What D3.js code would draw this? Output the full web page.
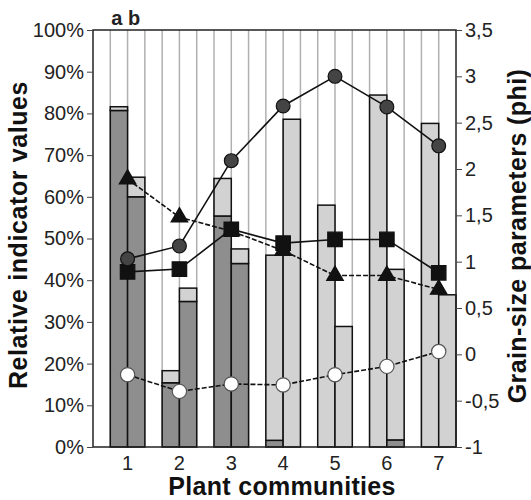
<!DOCTYPE html>
<html>
<head>
<meta charset="utf-8">
<script src="https://cdn.jsdelivr.net/npm/d3@7"></script>
<style>
  body { margin: 0; background: #fff; }
  text { font-family: "Liberation Sans", Arial, sans-serif; fill: #222; }
  .title { font-weight: bold; font-size: 25px; fill: #111; }
</style>
</head>
<body>
<svg id="chart" width="531" height="500"></svg>
<script>
const communities = ['1', '2', '3', '4', '5', '6', '7'];

// stacked bars, % (dark segment at the bottom, light segment on top)
const darkA  = [80.7, 15.4, 55.4, 1.6, 0, 0, 0];
const lightA = [0.9, 2.9, 9.0, 44.4, 58.0, 84.4, 77.6];
const darkB  = [60.0, 34.9, 44.0, 0, 0, 1.7, 0];
const lightB = [4.7, 3.2, 3.5, 78.6, 28.9, 40.9, 36.5];

// grain-size parameters (phi), right axis
const filledCircles = [1.03, 1.17, 2.09, 2.68, 3.0, 2.67, 2.25];
const squares       = [0.89, 0.92, 1.35, 1.2, 1.24, 1.24, 0.88];
const triangles     = [1.89, 1.48, 1.33, 1.12, 0.85, 0.85, 0.70];
const openCircles   = [-0.22, -0.40, -0.32, -0.33, -0.22, -0.13, 0.03];

const leftTicks = [0, 10, 20, 30, 40, 50, 60, 70, 80, 90, 100];
const rightTicks = [-1, -0.5, 0, 0.5, 1, 1.5, 2, 2.5, 3, 3.5];

const svg = d3.select('#chart');
const plotL = 93, plotR = 456, plotT = 30, plotB = 447;
const slot = (plotR - plotL) / 21;

const x = d3.scaleBand()
  .domain(communities)
  .range([plotL + slot, plotR])
  .paddingInner(1 / 3)
  .paddingOuter(0);
const yPct = d3.scaleLinear().domain([0, 100]).range([plotB, plotT]);
const yPhi = d3.scaleLinear().domain([-1, 3.5]).range([plotB, plotT]);
const cx = c => x(c) + x.bandwidth() / 2;

// vertical grid lines on every slot boundary
const gridPos = d3.range(1, 21).map(k => plotL + k * slot);
svg.append('g').selectAll('line').data(gridPos).join('line')
  .attr('x1', d => d).attr('x2', d => d)
  .attr('y1', plotT).attr('y2', plotB)
  .attr('stroke', '#b0b0b0').attr('stroke-width', 1.5);

// bars
const stack = d3.stack().keys(['dark', 'light']);
const barColors = {dark: '#8e8e8e', light: '#d2d2d2'};
function drawBars(dark, light, offset) {
  const rows = communities.map((c, i) => ({c, dark: dark[i], light: light[i]}));
  const layers = stack(rows);
  svg.append('g').selectAll('g').data(layers).join('g')
    .attr('fill', d => barColors[d.key])
    .selectAll('rect').data(d => d.filter(s => s[1] - s[0] > 0)).join('rect')
      .attr('x', d => x(d.data.c) + offset)
      .attr('width', slot)
      .attr('y', d => yPct(d[1]))
      .attr('height', d => yPct(d[0]) - yPct(d[1]))
      .attr('stroke', '#111')
      .attr('stroke-width', 1.5);
}
drawBars(darkA, lightA, 0);
drawBars(darkB, lightB, slot);

// frame
svg.append('rect')
  .attr('x', plotL).attr('y', plotT)
  .attr('width', plotR - plotL).attr('height', plotB - plotT)
  .attr('fill', 'none').attr('stroke', '#222').attr('stroke-width', 1.5);

// axes
const yLeftAxis = svg.append('g').attr('transform', `translate(${plotL},0)`)
  .call(d3.axisLeft(yPct).tickValues(leftTicks).tickSize(6).tickPadding(3)
    .tickFormat(d => d + '%'));
const yRightAxis = svg.append('g').attr('transform', `translate(${plotR},0)`)
  .call(d3.axisRight(yPhi).tickValues(rightTicks).tickSize(6).tickPadding(3)
    .tickFormat(d => String(d).replace('.', ',')));
const xAxis = svg.append('g').attr('transform', `translate(0,${plotB})`)
  .call(d3.axisBottom(x).tickSize(0).tickPadding(9));
xAxis.selectAll('.tick').attr('transform', d => `translate(${cx(d)},0)`);
[yLeftAxis, yRightAxis, xAxis].forEach(a => {
  a.select('.domain').remove();
  a.selectAll('.tick line').attr('stroke', '#444');
  a.selectAll('.tick text').style('font-size', '20px')
    .style('font-family', '"Liberation Sans", Arial, sans-serif').attr('fill', '#333');
});

// lines and markers
function drawSeries(values, opts) {
  const pts = communities.map((c, i) => [cx(c), yPhi(values[i])]);
  svg.append('path')
    .attr('d', d3.line()(pts))
    .attr('fill', 'none')
    .attr('stroke', '#111')
    .attr('stroke-width', 1.6)
    .attr('stroke-dasharray', opts.dash || null);
  const sym = d3.symbol().type(opts.symbol).size(opts.size);
  svg.append('g').selectAll('path').data(pts).join('path')
    .attr('transform', d => `translate(${d[0]},${d[1]})`)
    .attr('d', sym)
    .attr('fill', opts.fill)
    .attr('stroke', opts.stroke)
    .attr('stroke-width', 1.2);
}
drawSeries(openCircles, {symbol: d3.symbolCircle, size: 160, fill: '#fff', stroke: '#555', dash: '5,2'});
drawSeries(triangles, {symbol: d3.symbolTriangle, size: 120, fill: '#111', stroke: '#111', dash: '5,2'});
drawSeries(squares, {symbol: d3.symbolSquare, size: 210, fill: '#111', stroke: '#111'});
drawSeries(filledCircles, {symbol: d3.symbolCircle, size: 150, fill: '#444', stroke: '#111'});

// a / b labels over community 1
svg.append('g').selectAll('text').data(['a', 'b']).join('text')
  .attr('x', (d, i) => x(communities[0]) + slot * i + slot / 2 - 2)
  .attr('y', 25)
  .attr('text-anchor', 'middle')
  .style('font-weight', 'bold').style('font-size', '20px')
  .text(d => d);

// titles
svg.append('text').attr('class', 'title')
  .attr('transform', 'translate(27,235) rotate(-90)')
  .attr('text-anchor', 'middle')
  .style('letter-spacing', '0.6px')
  .text('Relative indicator values');
svg.append('text').attr('class', 'title')
  .attr('transform', 'translate(526,236) rotate(-90)')
  .attr('text-anchor', 'middle')
  .style('letter-spacing', '0.4px')
  .text('Grain-size parameters (phi)');
svg.append('text').attr('class', 'title')
  .attr('x', 282).attr('y', 495)
  .attr('text-anchor', 'middle')
  .style('letter-spacing', '0.3px')
  .text('Plant communities');
</script>
</body>
</html>
